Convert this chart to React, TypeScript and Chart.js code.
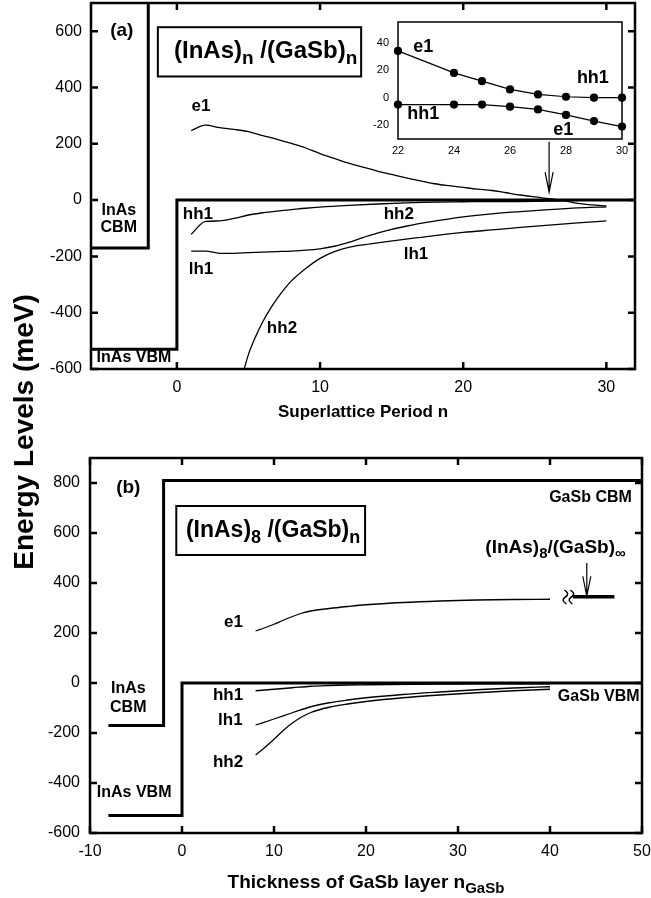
import React, { useEffect, useRef } from "react";
import { Chart, registerables } from "chart.js";
Chart.register(...registerables);

const FONT = '"Liberation Sans", Arial, Helvetica, sans-serif';

// ---------- Panel (a): (InAs)n/(GaSb)n ----------
const aXTicks = [0, 10, 20, 30];
const aYTicks = [-600, -400, -200, 0, 200, 400, 600];
const aCbmN = [-6, -2, -2];
const aCbmE = [-170, -170, 700];
const aVbmN = [-6, 0, 0, 32];
const aVbmE = [-530, -530, 0, 0];
const aE1N = [1, 2, 3, 4, 5, 6, 7, 8, 9, 10, 11, 12, 13, 14, 15, 16, 17, 18, 19, 20, 21, 22, 23, 24, 25, 26, 27, 28, 29, 30];
const aE1 = [247, 266, 257, 251, 243, 229, 216, 201, 185, 165, 148, 131, 117, 103, 91, 79, 68, 58, 51, 45, 39, 34, 26, 18, 11, 5, -2, -12, -17, -21];
const aHh1N = [1, 2, 3, 4, 5, 6, 7, 8, 9, 10, 12, 14, 16, 18, 20, 22, 24, 26, 28, 30];
const aHh1 = [-121, -76, -74, -65, -53, -45, -39, -34, -29, -25, -19, -14, -10, -7, -6, -5, -5, -4, -1, 0];
const aLh1N = [1, 2, 3, 4, 5, 6, 7, 8, 9, 10, 11, 12, 13, 14, 15, 16, 17, 18, 20, 22, 24, 26, 28, 30];
const aLh1 = [-181, -181, -189, -189, -187, -185, -183, -181, -178, -173, -164, -150, -133, -117, -104, -93, -83, -75, -60, -49, -41, -34, -28, -24];
const aHh2N = [4.7, 5, 5.5, 6, 6.5, 7, 7.5, 8, 9, 10, 11, 12, 13, 14, 16, 18, 20, 22, 24, 26, 28, 30];
const aHh2 = [-600, -548, -485, -432, -388, -350, -316, -287, -243, -207, -183, -168, -159, -152, -139, -126, -115, -106, -97, -89, -81, -74];

// inset of (a)
const insN = [22, 24, 25, 26, 27, 28, 29, 30];
const insUpper = [34, 18, 12, 6, 2.4, 0.7, 0, 0];
const insLower = [-5, -5, -5, -6.5, -8.5, -12.5, -17, -21];
const insXTicks = [22, 24, 26, 28, 30];
const insYTicks = [-20, 0, 20, 40];

// ---------- Panel (b): (InAs)8/(GaSb)n ----------
const bXTicks = [-10, 0, 10, 20, 30, 40, 50];
const bYTicks = [-600, -400, -200, 0, 200, 400, 600, 800];
const bCbmN = [-8, -2, -2, 50];
const bCbmE = [-170, -170, 810, 810];
const bVbmN = [-8, 0, 0, 50];
const bVbmE = [-530, -530, 0, 0];
const bE1N = [8, 9, 10, 11, 12, 13, 14, 16, 18, 20, 24, 28, 32, 36, 40];
const bE1 = [208, 221, 235, 251, 266, 279, 288, 298, 306, 313, 322, 328, 332, 334, 335];
const bHh1N = [8, 10, 12, 14, 16, 18, 20, 25, 30, 35, 40];
const bHh1 = [-31, -25, -19, -13, -10, -8, -7, -5, -4, -3, -3];
const bLh1N = [8, 10, 12, 14, 16, 18, 20, 24, 28, 32, 36, 40];
const bLh1 = [-168, -144, -119, -95, -79, -68, -59, -46, -36, -27, -20, -15];
const bHh2N = [8, 9, 10, 11, 12, 13, 14, 16, 18, 20, 24, 28, 32, 36, 40];
const bHh2 = [-288, -258, -225, -190, -160, -136, -118, -97, -84, -74, -59, -48, -39, -31, -25];
const bInfN = [42.5, 47];
const bInfE = [345, 345];

type Seg = { t: string; sub?: boolean };
type Label = { parts: Seg[]; x: number; y: number; size: number; bold?: boolean; align?: "left" | "center" | "right" };

const L = (t: string, x: number, y: number, size = 17, align: "left" | "center" | "right" = "center"): Label => ({ parts: [{ t }], x, y, size, bold: true, align });

const aLabels: Label[] = [
  L("(a)", -3.85, 600, 19),
  L("e1", 1.68, 332),
  L("InAs", -4.06, -39, 16),
  L("CBM", -4.06, -96, 16),
  L("hh1", 1.47, -50),
  L("lh1", 1.68, -246),
  L("hh2", 7.34, -454),
  L("InAs VBM", -3.0, -561, 16),
  L("hh2", 15.5, -50),
  L("lh1", 16.7, -193),
  { parts: [{ t: "(InAs)" }, { t: "n", sub: true }, { t: " /(GaSb)" }, { t: "n", sub: true }], x: 6.2, y: 528, size: 24, bold: true, align: "center" },
];
const aBoxes = [{ x0: -1.33, x1: 12.87, y0: 439, y1: 614 }];
const aArrows = [{ x: 26, y0: 207, y1: 28 }];

const insLabels: Label[] = [
  L("e1", 22.9, 37, 18),
  L("hh1", 28.96, 14, 18),
  L("hh1", 22.9, -11.5, 18),
  L("e1", 27.9, -23.5, 18),
];

const bLabels: Label[] = [
  L("(b)", -5.84, 780, 19),
  L("e1", 5.6, 244),
  L("hh1", 5.0, -48),
  L("lh1", 5.25, -148),
  L("hh2", 5.0, -316),
  L("InAs", -5.84, -24, 16),
  L("CBM", -5.84, -100, 16),
  L("InAs VBM", -5.2, -440, 16),
  L("GaSb CBM", 44.4, 740, 16),
  L("GaSb VBM", 45.3, -56, 16),
  { parts: [{ t: "(InAs)" }, { t: "8", sub: true }, { t: " /(GaSb)" }, { t: "n", sub: true }], x: 9.9, y: 610, size: 23, bold: true, align: "center" },
  { parts: [{ t: "(InAs)" }, { t: "8", sub: true }, { t: "/(GaSb)" }, { t: "∞", sub: true }], x: 40.6, y: 540, size: 19, bold: true, align: "center" },
];
const bBoxes = [{ x0: -0.62, x1: 19.9, y0: 512, y1: 708 }];
const bArrows = [{ x: 44, y0: 480, y1: 347 }];
const bBreaks = [{ x: 42, y: 344 }];

function pts(xs: number[], ys: number[]) {
  return xs.map((x, i) => ({ x, y: ys[i] }));
}

function drawRich(ctx: CanvasRenderingContext2D, lab: Label, px: number, py: number) {
  const fw = lab.bold ? "bold " : "";
  const subSize = Math.round(lab.size * 0.8);
  const fonts = lab.parts.map((p) => `${fw}${p.sub ? subSize : lab.size}px ${FONT}`);
  let total = 0;
  const widths = lab.parts.map((p, i) => {
    ctx.font = fonts[i];
    const w = ctx.measureText(p.t).width;
    total += w;
    return w;
  });
  let cx = lab.align === "center" ? px - total / 2 : lab.align === "right" ? px - total : px;
  ctx.textBaseline = "middle";
  ctx.textAlign = "left";
  ctx.fillStyle = "#000";
  lab.parts.forEach((p, i) => {
    ctx.font = fonts[i];
    ctx.fillText(p.t, cx, py + (p.sub ? lab.size * 0.32 : 0));
    cx += widths[i];
  });
}

type Spec = {
  xTicks: number[];
  yTicks: number[];
  frameWidth: number;
  tickLen: number;
  labels: Label[];
  boxes?: { x0: number; x1: number; y0: number; y1: number }[];
  arrows?: { x: number; y0: number; y1: number }[];
  breaks?: { x: number; y: number }[];
  title?: { parts: Seg[]; dy: number; size: number };
};

function decorPlugin(spec: Spec) {
  return {
    id: "decor",
    afterDatasetsDraw(chart: any) {
      const { ctx, chartArea: a, scales } = chart;
      const sx = scales.x, sy = scales.y;
      ctx.save();
      ctx.strokeStyle = "#000";
      ctx.lineWidth = spec.frameWidth;
      ctx.strokeRect(a.left, a.top, a.right - a.left, a.bottom - a.top);
      if (spec.tickLen > 0) {
        ctx.beginPath();
        for (const v of spec.xTicks) {
          const p = sx.getPixelForValue(v);
          ctx.moveTo(p, a.bottom);
          ctx.lineTo(p, a.bottom - spec.tickLen);
          ctx.moveTo(p, a.top);
          ctx.lineTo(p, a.top + spec.tickLen);
        }
        for (const v of spec.yTicks) {
          const p = sy.getPixelForValue(v);
          ctx.moveTo(a.left, p);
          ctx.lineTo(a.left + spec.tickLen, p);
          ctx.moveTo(a.right, p);
          ctx.lineTo(a.right - spec.tickLen, p);
        }
        ctx.stroke();
      }
      ctx.lineWidth = 2;
      for (const b of spec.boxes || []) {
        const x0 = sx.getPixelForValue(b.x0), x1 = sx.getPixelForValue(b.x1);
        const y0 = sy.getPixelForValue(b.y1), y1 = sy.getPixelForValue(b.y0);
        ctx.fillStyle = "#fff";
        ctx.fillRect(x0, y0, x1 - x0, y1 - y0);
        ctx.strokeRect(x0, y0, x1 - x0, y1 - y0);
      }
      ctx.lineWidth = 1.2;
      for (const ar of spec.arrows || []) {
        const x = sx.getPixelForValue(ar.x);
        const y0 = sy.getPixelForValue(ar.y0), y1 = sy.getPixelForValue(ar.y1);
        ctx.beginPath();
        ctx.moveTo(x, y0);
        ctx.lineTo(x, y1);
        ctx.moveTo(x - 4, y1 - 20);
        ctx.lineTo(x, y1);
        ctx.lineTo(x + 4, y1 - 20);
        ctx.stroke();
      }
      ctx.lineWidth = 1.5;
      for (const br of spec.breaks || []) {
        const x = sx.getPixelForValue(br.x), y = sy.getPixelForValue(br.y);
        for (const dx of [-3, 3]) {
          ctx.beginPath();
          ctx.moveTo(x + dx - 1, y - 7);
          ctx.quadraticCurveTo(x + dx + 5, y - 3, x + dx, y);
          ctx.quadraticCurveTo(x + dx - 5, y + 3, x + dx + 1, y + 7);
          ctx.stroke();
        }
      }
      for (const lab of spec.labels) {
        drawRich(ctx, lab, sx.getPixelForValue(lab.x), sy.getPixelForValue(lab.y));
      }
      if (spec.title) {
        drawRich(
          ctx,
          { parts: spec.title.parts, x: 0, y: 0, size: spec.title.size, bold: true, align: "center" },
          (a.left + a.right) / 2,
          a.bottom + spec.title.dy
        );
      }
      ctx.restore();
    },
  };
}

function line(data: { x: number; y: number }[], width: number, smooth: boolean) {
  return {
    data,
    borderColor: "#000",
    backgroundColor: "#000",
    borderWidth: width,
    pointRadius: 0,
    fill: false,
    tension: 0,
    cubicInterpolationMode: smooth ? "monotone" : "default",
    borderCapStyle: "butt",
    borderJoinStyle: "miter",
  };
}

function axis(min: number, max: number, ticks: number[], size: number, pad: number, fitKey: "width" | "height", fitVal: number) {
  return {
    type: "linear",
    min,
    max,
    grid: { display: false, drawTicks: false },
    border: { display: false },
    ticks: { font: { family: FONT, size }, color: "#000", padding: pad },
    afterBuildTicks: (s: any) => {
      s.ticks = ticks.map((v) => ({ value: v }));
    },
    afterFit: (s: any) => {
      s[fitKey] = fitVal;
      s.paddingTop = 0;
      s.paddingBottom = 0;
      s.paddingLeft = 0;
      s.paddingRight = 0;
    },
  };
}

const common = {
  responsive: false,
  devicePixelRatio: 1,
  animation: false,
  events: [],
  plugins: { legend: { display: false }, tooltip: { enabled: false } },
};

export default function App() {
  const topRef = useRef<HTMLCanvasElement>(null);
  const botRef = useRef<HTMLCanvasElement>(null);
  const insRef = useRef<HTMLCanvasElement>(null);

  useEffect(() => {
    const charts: Chart[] = [];
    charts.push(
      new Chart(topRef.current as HTMLCanvasElement, {
        type: "line",
        data: {
          datasets: [
            line(pts(aCbmN, aCbmE), 3, false),
            line(pts(aVbmN, aVbmE), 3, false),
            line(pts(aE1N, aE1), 1.3, true),
            line(pts(aHh1N, aHh1), 1.3, true),
            line(pts(aLh1N, aLh1), 1.3, true),
            line(pts(aHh2N, aHh2), 1.3, true),
          ] as any,
        },
        options: {
          ...common,
          layout: { padding: { top: 3, right: 16, left: 0, bottom: 18 } },
          scales: {
            x: axis(-6, 32, aXTicks, 16, 9, "height", 53),
            y: axis(-600, 700, aYTicks, 16, 9, "width", 91),
          },
        } as any,
        plugins: [
          decorPlugin({
            xTicks: aXTicks,
            yTicks: aYTicks,
            frameWidth: 2.5,
            tickLen: 7,
            labels: aLabels,
            boxes: aBoxes,
            arrows: aArrows,
            title: { parts: [{ t: "Superlattice Period n" }], dy: 43, size: 17 },
          }),
        ],
      })
    );
    charts.push(
      new Chart(botRef.current as HTMLCanvasElement, {
        type: "line",
        data: {
          datasets: [
            line(pts(bCbmN, bCbmE), 3, false),
            line(pts(bVbmN, bVbmE), 3, false),
            line(pts(bE1N, bE1), 1.3, true),
            line(pts(bHh1N, bHh1), 1.3, true),
            line(pts(bLh1N, bLh1), 1.3, true),
            line(pts(bHh2N, bHh2), 1.3, true),
            line(pts(bInfN, bInfE), 3.5, false),
          ] as any,
        },
        options: {
          ...common,
          layout: { padding: { top: 18, right: 9, left: 0, bottom: 0 } },
          scales: {
            x: axis(-10, 50, bXTicks, 16, 9, "height", 65),
            y: axis(-600, 900, bYTicks, 16, 10, "width", 90),
          },
        } as any,
        plugins: [
          decorPlugin({
            xTicks: bXTicks,
            yTicks: bYTicks,
            frameWidth: 2.5,
            tickLen: 7,
            labels: bLabels,
            boxes: bBoxes,
            arrows: bArrows,
            breaks: bBreaks,
            title: { parts: [{ t: "Thickness of GaSb layer n" }, { t: "GaSb", sub: true }], dy: 50, size: 19 },
          }),
        ],
      })
    );
    charts.push(
      new Chart(insRef.current as HTMLCanvasElement, {
        type: "line",
        data: {
          datasets: [
            { ...line(pts(insN, insUpper), 1.2, false), pointRadius: 3.5, pointBackgroundColor: "#000", pointBorderColor: "#000", clip: false },
            { ...line(pts(insN, insLower), 1.2, false), pointRadius: 3.5, pointBackgroundColor: "#000", pointBorderColor: "#000", clip: false },
          ] as any,
        },
        options: {
          ...common,
          layout: { padding: { top: 10, right: 10, left: 0, bottom: 0 } },
          scales: {
            x: axis(22, 30, insXTicks, 11, 5, "height", 23),
            y: axis(-30, 55, insYTicks, 11, 9, "width", 28),
          },
        } as any,
        plugins: [
          decorPlugin({
            xTicks: insXTicks,
            yTicks: insYTicks,
            frameWidth: 1.5,
            tickLen: 0,
            labels: insLabels,
          }),
        ],
      })
    );
    return () => charts.forEach((c) => c.destroy());
  }, []);

  return (
    <div style={{ position: "fixed", left: 0, top: 0, width: 651, height: 898, background: "#fff", overflow: "hidden" }}>
      <canvas ref={topRef} width={651} height={440} style={{ position: "absolute", left: 0, top: 0 }} />
      <canvas ref={botRef} width={651} height={458} style={{ position: "absolute", left: 0, top: 440 }} />
      <canvas ref={insRef} width={262} height={150} style={{ position: "absolute", left: 370, top: 12 }} />
      <div
        style={{
          position: "absolute",
          left: 26 - 200,
          top: 432 - 18,
          width: 400,
          height: 36,
          lineHeight: "36px",
          textAlign: "center",
          transform: "rotate(-90deg)",
          font: `bold 28px ${FONT}`,
          color: "#000",
          whiteSpace: "nowrap",
        }}
      >
        Energy Levels (meV)
      </div>
    </div>
  );
}
